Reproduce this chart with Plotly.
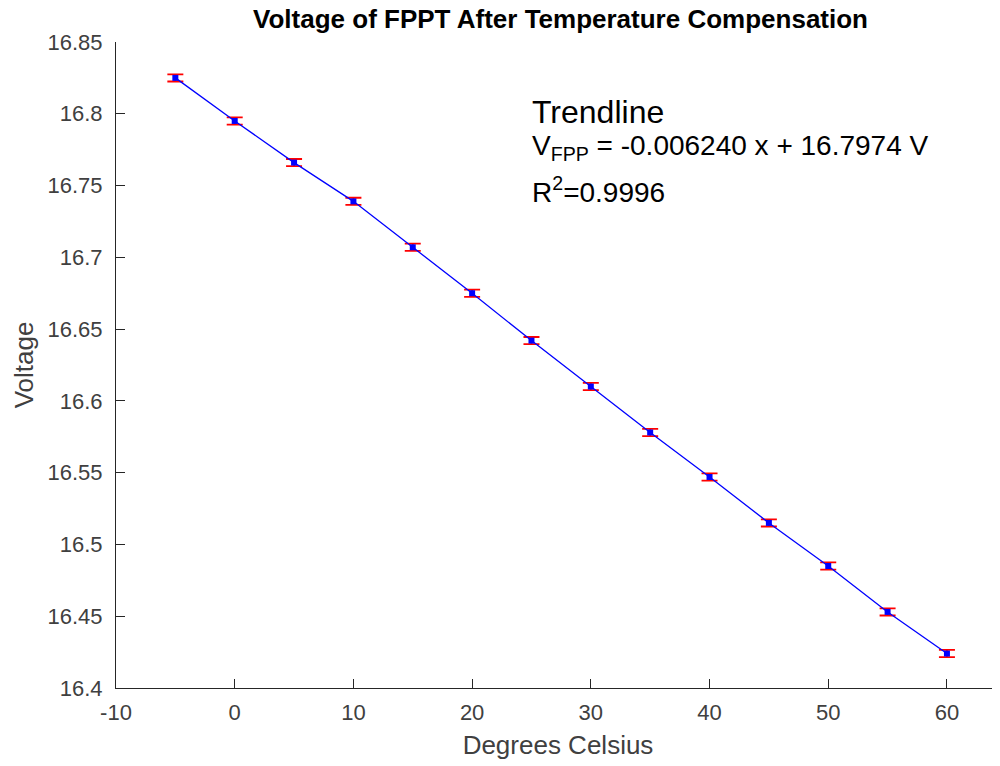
import plotly.graph_objects as go

# temperature (deg C) vs measured FPPT voltage
temps = [-5, 0, 5, 10, 15, 20, 25, 30, 35, 40, 45, 50, 55, 60]
volts = [16.825, 16.795, 16.766, 16.739, 16.707, 16.675, 16.642,
         16.610, 16.578, 16.547, 16.515, 16.485, 16.453, 16.424]
err = [0.0025] * len(temps)

x_ticks = [-10, 0, 10, 20, 30, 40, 50, 60]
x_labels = ['-10', '0', '10', '20', '30', '40', '50', '60']
y_ticks = [16.4, 16.45, 16.5, 16.55, 16.6, 16.65, 16.7, 16.75, 16.8, 16.85]
y_labels = ['16.4', '16.45', '16.5', '16.55', '16.6', '16.65', '16.7', '16.75', '16.8', '16.85']

fit_lines = ['Trendline',
             'V<sub>FPP</sub> = -0.006240 x + 16.7974 V',
             'R<sup>2</sup>=0.9996']

axcol = '#262626'
txtcol = '#404040'
font = 'Liberation Sans, Arial, sans-serif'

fig = go.Figure()
fig.add_trace(go.Scatter(
    x=temps, y=volts, mode='lines+markers',
    line=dict(color='#0000ff', width=1.3),
    marker=dict(color='#0000ff', size=6, symbol='square'),
    error_y=dict(type='data', array=err, color='#ff0000', thickness=1.8, width=8),
    showlegend=False))

# trendline text block, three lines
fig.add_annotation(x=24.85, y=16.8012, text=fit_lines[0], showarrow=False,
                   xanchor='left', yanchor='middle', font=dict(family=font, size=32, color='#000000'))
fig.add_annotation(x=24.85, y=16.7762, text=fit_lines[1], showarrow=False,
                   xanchor='left', yanchor='middle', font=dict(family=font, size=28, color='#000000'))
fig.add_annotation(x=24.85, y=16.7468, text=fit_lines[2], showarrow=False,
                   xanchor='left', yanchor='middle', font=dict(family=font, size=28, color='#000000'))

fig.update_layout(
    width=992, height=758,
    margin=dict(l=108, r=0, t=34, b=78),
    paper_bgcolor='white', plot_bgcolor='white',
    font=dict(family=font, size=22, color=txtcol),
    title=dict(text='<b>Voltage of FPPT After Temperature Compensation</b>',
               x=0.557, xanchor='center', y=0.985, yanchor='middle',
               font=dict(family=font, size=26, color='#000000')),
    xaxis=dict(range=[-10, 64.47], tickvals=x_ticks, ticktext=x_labels, showgrid=False,
               zeroline=False, showline=True, linecolor=axcol, linewidth=1.2,
               ticks='inside', ticklen=9, tickcolor=axcol, ticklabelstandoff=4,
               title=dict(text='Degrees Celsius', font=dict(size=26, color=txtcol), standoff=12)),
    yaxis=dict(range=[16.4, 16.85], tickvals=y_ticks, ticktext=y_labels, showgrid=False,
               zeroline=False, showline=True, linecolor=axcol, linewidth=1.2,
               ticks='inside', ticklen=9, tickcolor=axcol, ticklabelstandoff=8,
               title=dict(text='Voltage', font=dict(size=26, color=txtcol), standoff=6)),
)

fig.write_html("out.html")
